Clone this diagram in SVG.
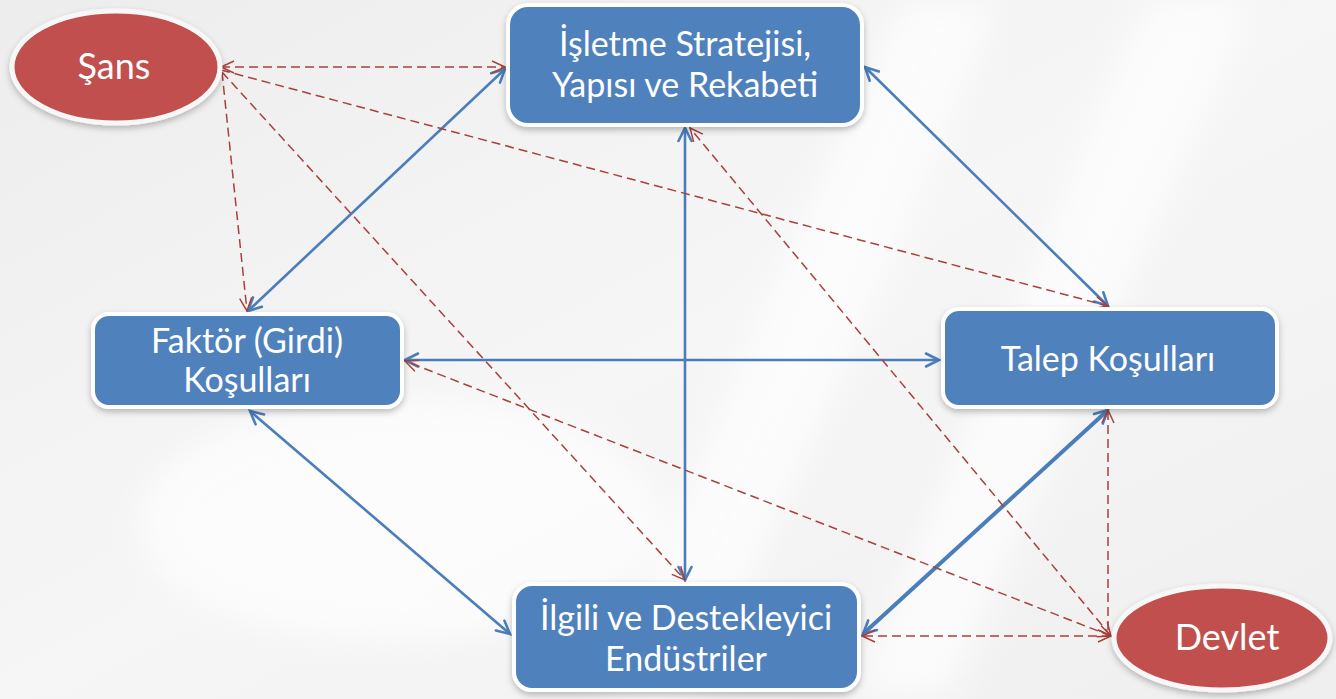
<svg xmlns="http://www.w3.org/2000/svg" width="1336" height="699" viewBox="0 0 1336 699">
<defs>
<linearGradient id="bg" x1="0" y1="0" x2="1" y2="1">
<stop offset="0" stop-color="#ededed"/>
<stop offset="0.5" stop-color="#f6f6f6"/>
<stop offset="1" stop-color="#efefef"/>
</linearGradient>
<filter id="sh" x="-10%" y="-10%" width="120%" height="130%">
<feDropShadow dx="0" dy="3" stdDeviation="3" flood-color="#000" flood-opacity="0.25"/>
</filter>
<filter id="blur" x="-20%" y="-20%" width="140%" height="140%"><feGaussianBlur stdDeviation="18"/></filter>
<marker id="ab" markerUnits="userSpaceOnUse" markerWidth="20" markerHeight="20" refX="15" refY="8" orient="auto-start-reverse">
<path d="M2,1.5 L15,8 L2,14.5" fill="none" stroke="#4a7ebb" stroke-width="2.6" stroke-linecap="round"/>
</marker>
<marker id="ar" markerUnits="userSpaceOnUse" markerWidth="20" markerHeight="20" refX="15" refY="8" orient="auto-start-reverse">
<path d="M2,2 L15,8 L2,14" fill="none" stroke="#a9403c" stroke-width="1.5"/>
</marker>
<style>
.box{fill:#4f81bd;stroke:#ffffff;stroke-width:4;filter:url(#sh)}
.ell{fill:#c0504d;stroke:#f7f7f7;stroke-width:5;filter:url(#sh)}
.t{font-family:Lato,"Noto Sans",sans-serif;font-size:34px;fill:#ffffff;text-anchor:middle}
.e{font-size:36px}
.b{fill:none;stroke:#4a7ebb;stroke-width:2.6;marker-start:url(#ab);marker-end:url(#ab)}
.bt{stroke-width:4}
.r{fill:none;stroke:#a9403c;stroke-width:1.5;stroke-dasharray:9 5}
</style>
</defs>
<rect width="1336" height="699" fill="url(#bg)"/>
<g filter="url(#blur)" fill="#ffffff" opacity="0.7">
<path d="M900,0 L1000,0 L700,699 L600,699 Z"/>
<path d="M1150,0 L1250,0 L950,699 L850,699 Z"/>
<ellipse cx="400" cy="520" rx="260" ry="120"/>
</g>
<g id="connectors">
<line class="b" x1="505" y1="69" x2="248" y2="311"/>
<line class="b" x1="865" y1="67" x2="1108" y2="306"/>
<line class="b" x1="685" y1="128" x2="685" y2="580"/>
<line class="b" x1="405" y1="360" x2="939" y2="360"/>
<line class="b" x1="250" y1="411" x2="510" y2="634"/>
<line class="b bt" x1="1108" y1="410" x2="863" y2="634"/>
<line class="r" x1="221" y1="67" x2="505" y2="67" marker-start="url(#ar)" marker-end="url(#ar)"/>
<line class="r" x1="221" y1="70" x2="1108" y2="306" marker-end="url(#ar)"/>
<line class="r" x1="222" y1="72" x2="247" y2="311" marker-end="url(#ar)"/>
<line class="r" x1="222" y1="72" x2="685" y2="580" marker-end="url(#ar)"/>
<line class="r" x1="1111" y1="636" x2="690" y2="128" marker-start="url(#ar)" marker-end="url(#ar)"/>
<line class="r" x1="1111" y1="636" x2="405" y2="361" marker-start="url(#ar)" marker-end="url(#ar)"/>
<line class="r" x1="1108" y1="630" x2="1108" y2="410" marker-end="url(#ar)"/>
<line class="r" x1="1111" y1="636" x2="862" y2="636" marker-start="url(#ar)" marker-end="url(#ar)"/>
</g>
<g id="sans">
<ellipse class="ell" cx="116" cy="67" rx="104" ry="56"/>
<text class="t e" x="114" y="79">Şans</text>
</g>
<g id="isletme">
<rect class="box" x="508" y="5" width="354" height="120" rx="20"/>
<text class="t" x="685" y="56">İşletme Stratejisi,</text>
<text class="t" x="685" y="97">Yapısı ve Rekabeti</text>
</g>
<g id="faktor">
<rect class="box" x="93" y="314" width="309" height="93" rx="16"/>
<text class="t" x="247" y="353">Faktör (Girdi)</text>
<text class="t" x="247" y="392">Koşulları</text>
</g>
<g id="talep">
<rect class="box" x="943" y="309" width="334" height="98" rx="16"/>
<text class="t" x="1108" y="371">Talep Koşulları</text>
</g>
<g id="ilgili">
<rect class="box" x="514" y="584" width="345" height="106" rx="18"/>
<text class="t" x="686" y="630">İlgili ve Destekleyici</text>
<text class="t" x="686" y="671">Endüstriler</text>
</g>
<g id="devlet">
<ellipse class="ell" cx="1222" cy="638" rx="108" ry="52"/>
<text class="t e" x="1227" y="650">Devlet</text>
</g>
</svg>
